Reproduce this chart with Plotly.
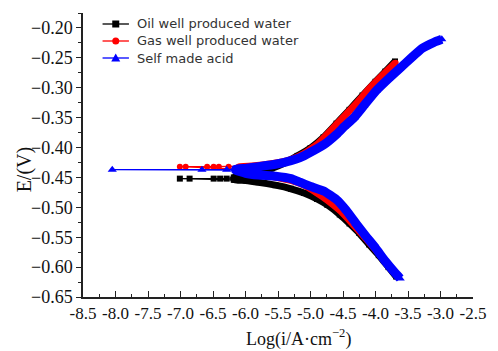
import plotly.graph_objects as go

# Tafel polarization curves: log current density vs potential

# Oil well produced water
oil_cath_logi = [-3.68, -3.80, -3.95, -4.10, -4.25, -4.40, -4.55, -4.74, -4.90, -5.10, -5.30, -5.54, -5.80, -6.00, -6.18]
oil_cath_E = [-0.616, -0.600, -0.580, -0.562, -0.543, -0.527, -0.512, -0.496, -0.486, -0.476, -0.469, -0.463, -0.458, -0.455, -0.454]
oil_corr_logi = [-7.01, -6.86, -6.49, -6.39, -6.29]
oil_corr_E = [-0.452, -0.452, -0.452, -0.452, -0.452]
oil_anod_logi = [-6.18, -6.00, -5.80, -5.60, -5.40, -5.20, -5.00, -4.80, -4.60, -4.40, -4.20, -4.00, -3.85, -3.70]
oil_anod_E = [-0.450, -0.447, -0.442, -0.435, -0.426, -0.414, -0.401, -0.383, -0.360, -0.337, -0.313, -0.290, -0.273, -0.256]

# Gas well produced water
gas_cath_logi = [-3.66, -3.80, -3.95, -4.10, -4.25, -4.40, -4.55, -4.74, -4.90, -5.10, -5.30, -5.60, -5.90, -6.10]
gas_cath_E = [-0.615, -0.597, -0.577, -0.558, -0.540, -0.522, -0.505, -0.488, -0.476, -0.463, -0.455, -0.448, -0.442, -0.436]
gas_corr_logi = [-7.01, -6.92, -6.59, -6.49, -6.41, -6.26]
gas_corr_E = [-0.432, -0.432, -0.432, -0.432, -0.432, -0.432]
gas_anod_logi = [-6.10, -5.90, -5.60, -5.30, -5.10, -4.90, -4.70, -4.50, -4.30, -4.10, -3.90, -3.69]
gas_anod_E = [-0.432, -0.431, -0.427, -0.420, -0.410, -0.395, -0.373, -0.350, -0.327, -0.302, -0.280, -0.258]

# Self made acid
acid_cath_logi = [-3.62, -3.72, -3.85, -4.00, -4.15, -4.30, -4.45, -4.60, -4.79, -5.00, -5.16, -5.30, -5.54, -5.80, -6.00, -6.15]
acid_cath_E = [-0.619, -0.607, -0.590, -0.568, -0.548, -0.527, -0.505, -0.487, -0.473, -0.465, -0.458, -0.452, -0.448, -0.446, -0.443, -0.438]
acid_corr_logi = [-8.05, -6.67, -6.29]
acid_corr_E = [-0.437, -0.437, -0.437]
acid_anod_logi = [-6.15, -6.00, -5.80, -5.54, -5.30, -5.16, -5.00, -4.79, -4.60, -4.48, -4.33, -4.18, -3.99, -3.80, -3.63, -3.45, -3.28, -3.10, -2.98]
acid_anod_E = [-0.436, -0.435, -0.432, -0.428, -0.422, -0.417, -0.408, -0.395, -0.378, -0.365, -0.350, -0.330, -0.305, -0.285, -0.268, -0.250, -0.234, -0.224, -0.219]

x_tickvals = [-8.5, -8.0, -7.5, -7.0, -6.5, -6.0, -5.5, -5.0, -4.5, -4.0, -3.5, -3.0, -2.5]
x_ticktext = ["-8.5", "-8.0", "-7.5", "-7.0", "-6.5", "-6.0", "-5.5", "-5.0", "-4.5", "-4.0", "-3.5", "-3.0", "-2.5"]

series_names = ["Oil well produced water", "Gas well produced water", "Self made acid"]
series_colors = ["#000000", "#ff0000", "#0000ff"]
series_symbols = ["square", "circle", "triangle-up"]

series = [
    (oil_cath_logi, oil_cath_E, oil_corr_logi, oil_corr_E, oil_anod_logi, oil_anod_E, 6, 7),
    (gas_cath_logi, gas_cath_E, gas_corr_logi, gas_corr_E, gas_anod_logi, gas_anod_E, 6, 7),
    (acid_cath_logi, acid_cath_E, acid_corr_logi, acid_corr_E, acid_anod_logi, acid_anod_E, 8, 9),
]

fig = go.Figure()
for (cx, cy, zx, zy, ax, ay, msize, band_w), name, color, symbol in zip(
        series, series_names, series_colors, series_symbols):
    # dense measured branches drawn as a thick band
    fig.add_trace(go.Scatter(
        x=cx + ax, y=cy + ay, mode="lines",
        line=dict(color=color, width=band_w, shape="spline", smoothing=0.3),
        showlegend=False, hoverinfo="skip"))
    # full sweep with markers (cathodic -> near Ecorr -> anodic)
    fig.add_trace(go.Scatter(
        x=cx + zx + ax, y=cy + zy + ay, mode="lines+markers", name=name,
        line=dict(color=color, width=1.2),
        marker=dict(symbol=symbol, size=msize, color=color, line=dict(width=0)),
        showlegend=False))

serif = "Liberation Serif"
axis_font = dict(family=serif, color="#111111")

# plot-area geometry in pixels, used to place the key and axis titles
L, R, T, B = 83, 482, 13, 297
def px(xp):
    return (xp - L) / (R - L)
def py(yp):
    return 1 - (yp - T) / (B - T)

# hand-drawn key (compact row spacing)
shapes = []
annotations = []
for i, (name, color, symbol) in enumerate(zip(series_names, series_colors, series_symbols)):
    yc = py(24 + i * 17)
    shapes.append(dict(type="line", xref="paper", yref="paper",
                       x0=px(103), x1=px(130), y0=yc, y1=yc,
                       line=dict(color=color, width=1.3)))
    xc = px(116.5)
    if symbol == "square":
        shapes.append(dict(type="rect", xref="paper", yref="paper", xsizemode="pixel", ysizemode="pixel",
                           xanchor=xc, yanchor=yc, x0=-3.5, x1=3.5, y0=-3.5, y1=3.5,
                           fillcolor=color, line=dict(width=0)))
    elif symbol == "circle":
        shapes.append(dict(type="circle", xref="paper", yref="paper", xsizemode="pixel", ysizemode="pixel",
                           xanchor=xc, yanchor=yc, x0=-3.5, x1=3.5, y0=-3.5, y1=3.5,
                           fillcolor=color, line=dict(width=0)))
    else:
        shapes.append(dict(type="path", xref="paper", yref="paper", xsizemode="pixel", ysizemode="pixel",
                           xanchor=xc, yanchor=yc, path="M -4.5 -3.5 L 4.5 -3.5 L 0 4.5 Z",
                           fillcolor=color, line=dict(width=0)))
    annotations.append(dict(text=name, xref="paper", yref="paper", x=px(136), y=yc,
                            xanchor="left", yanchor="middle", showarrow=False,
                            font=dict(family="DejaVu Sans", size=13, color="#333333")))

annotations += [
    dict(text="Log(i/A·cm<sup>−2</sup>)", xref="paper", yref="paper",
         x=px(303), y=py(338), xanchor="center", yanchor="middle",
         showarrow=False, font=dict(size=18, **axis_font)),
    dict(text="E/(V)", xref="paper", yref="paper",
         x=px(23), y=py(169), xanchor="center", yanchor="middle",
         textangle=-90, showarrow=False, font=dict(size=20, **axis_font)),
]

fig.update_layout(
    width=498, height=351,
    margin=dict(l=L, r=498 - R, t=T, b=351 - B),
    paper_bgcolor="white", plot_bgcolor="white",
    font=dict(family=serif, color="#111111"),
    showlegend=False,
    shapes=shapes,
    annotations=annotations,
    xaxis=dict(range=[-8.5, -2.5], tickvals=x_tickvals, ticktext=x_ticktext,
               showgrid=False, zeroline=False,
               showline=True, linecolor="#222222", linewidth=1.5,
               ticks="inside", ticklen=6, tickwidth=1.3, tickcolor="#222222",
               minor=dict(dtick=0.25, tick0=-8.5, ticks="inside", ticklen=3, tickwidth=1.1, tickcolor="#222222"),
               tickfont=dict(size=17, **axis_font)),
    yaxis=dict(range=[-0.65, -0.175], tick0=-0.65, dtick=0.05, tickformat=".2f",
               showgrid=False, zeroline=False,
               showline=True, linecolor="#222222", linewidth=1.5,
               ticks="outside", ticklen=5, tickwidth=1.3, tickcolor="#222222",
               minor=dict(dtick=0.025, tick0=-0.65, ticks="outside", ticklen=3, tickwidth=1.1, tickcolor="#222222"),
               tickfont=dict(size=18, **axis_font)),
)

fig.write_html("out.html")
